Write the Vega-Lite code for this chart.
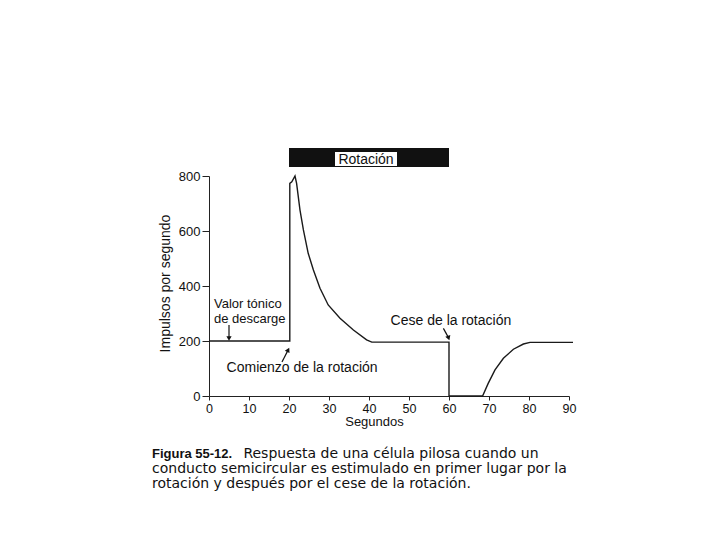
{
  "$schema": "https://vega.github.io/schema/vega-lite/v6.json",
  "width": 360,
  "height": 220,
  "autosize": {"type": "none"},
  "padding": {"left": 209, "top": 176, "right": 151, "bottom": 144},
  "background": "white",
  "config": {"view": {"stroke": null}, "font": "Liberation Sans", "axis": {"labelOverlap": false, "grid": false}},
  "encoding": {
    "x": {"field": "x", "type": "quantitative",
      "scale": {"domain": [0, 90], "nice": false, "zero": false},
      "axis": {"values": [0, 10, 20, 30, 40, 50, 60, 70, 80, 90], "title": "Segundos",
        "titleX": 165, "titleY": 29.5, "titleBaseline": "alphabetic",
        "titleFont": "Liberation Sans", "titleFontSize": 13, "titleFontWeight": "normal", "titleColor": "#111",
        "labelFont": "Liberation Sans", "labelFontSize": 12.5, "labelColor": "#111", "labelPadding": 2,
        "labelOverlap": false, "labelFlush": false,
        "tickSize": 4, "tickColor": "#222", "domainColor": "#222", "grid": false}},
    "y": {"field": "y", "type": "quantitative",
      "scale": {"domain": [0, 800], "nice": false},
      "axis": {"values": [0, 200, 400, 600, 800], "title": "Impulsos por segundo",
        "titleX": -37, "titleY": 107, "titleBaseline": "bottom",
        "titleFont": "Liberation Sans", "titleFontSize": 14, "titleFontWeight": "normal", "titleColor": "#111",
        "labelFont": "Liberation Sans", "labelFontSize": 13, "labelColor": "#111", "labelPadding": 2,
        "labelOverlap": false, "labelFlush": false,
        "tickSize": 7, "tickColor": "#222", "domainColor": "#222", "grid": false}}
  },
  "layer": [
    {
      "data": {"values": [
        {"i": 0, "x": 0, "y": 200},
        {"i": 1, "x": 20.2, "y": 200},
        {"i": 2, "x": 20.2, "y": 773},
        {"i": 3, "x": 20.7, "y": 779},
        {"i": 4, "x": 21.5, "y": 800},
        {"i": 5, "x": 21.9, "y": 773},
        {"i": 6, "x": 22.75, "y": 676},
        {"i": 7, "x": 23.6, "y": 604},
        {"i": 8, "x": 24.8, "y": 519},
        {"i": 9, "x": 26.1, "y": 458},
        {"i": 10, "x": 27.75, "y": 392},
        {"i": 11, "x": 29.8, "y": 331},
        {"i": 12, "x": 32.75, "y": 283},
        {"i": 13, "x": 36.1, "y": 240},
        {"i": 14, "x": 39.4, "y": 204},
        {"i": 15, "x": 40.7, "y": 196},
        {"i": 16, "x": 60, "y": 196},
        {"i": 17, "x": 60, "y": 0},
        {"i": 18, "x": 68.4, "y": 0},
        {"i": 19, "x": 69.8, "y": 46},
        {"i": 20, "x": 71.5, "y": 95},
        {"i": 21, "x": 73.6, "y": 137},
        {"i": 22, "x": 76.1, "y": 170},
        {"i": 23, "x": 78.6, "y": 189},
        {"i": 24, "x": 80.25, "y": 195},
        {"i": 25, "x": 91, "y": 195}
      ]},
      "mark": {"type": "line", "stroke": "#1a1a1a", "strokeWidth": 1.4, "clip": false},
      "encoding": {
        "order": {"field": "i", "type": "quantitative"}
      }
    },
    {
      "data": {"values": [{"x": 20, "x2": 60, "y": 833, "y2": 902}]},
      "mark": {"type": "rect", "fill": "#111", "clip": false},
      "encoding": {
        "x2": {"field": "x2"},
        "y2": {"field": "y2"}
      }
    },
    {
      "data": {"values": [{"x": 31.5, "x2": 47, "y": 836, "y2": 887}]},
      "mark": {"type": "rect", "fill": "white", "clip": false},
      "encoding": {
        "x2": {"field": "x2"},
        "y2": {"field": "y2"}
      }
    },
    {
      "data": {"values": [{"x": 39.25, "y": 842, "label": "Rotación"}]},
      "mark": {"type": "text", "align": "center", "baseline": "alphabetic", "font": "Liberation Sans", "fontSize": 14, "color": "#111", "clip": false},
      "encoding": {
        "text": {"field": "label"}
      }
    },
    {
      "data": {"values": [
        {"x": 1.25, "y": 319, "label": "Valor tónico"},
        {"x": 1.25, "y": 264, "label": "de descarge"}
      ]},
      "mark": {"type": "text", "align": "left", "baseline": "alphabetic", "font": "Liberation Sans", "fontSize": 13, "color": "#111", "clip": false},
      "encoding": {
        "text": {"field": "label"}
      }
    },
    {
      "data": {"values": [
        {"x": 4.4, "y": 88, "label": "Comienzo de la rotación"},
        {"x": 45.4, "y": 258, "label": "Cese de la rotación"}
      ]},
      "mark": {"type": "text", "align": "left", "baseline": "alphabetic", "font": "Liberation Sans", "fontSize": 14, "color": "#111", "clip": false},
      "encoding": {
        "text": {"field": "label"}
      }
    },
    {
      "data": {"values": [
        {"x": 5, "y": 258, "x2": 5, "y2": 212},
        {"x": 18.25, "y": 124, "x2": 19.7, "y2": 165},
        {"x": 58.6, "y": 246, "x2": 59.8, "y2": 214}
      ]},
      "mark": {"type": "rule", "stroke": "#111", "strokeWidth": 1.2, "clip": false},
      "encoding": {
        "x2": {"field": "x2"},
        "y2": {"field": "y2"}
      }
    },
    {
      "data": {"values": [{"x": 5, "y": 209}]},
      "mark": {"type": "point", "shape": "triangle-down", "filled": true, "size": 28, "color": "#111", "opacity": 1, "clip": false}
    },
    {
      "data": {"values": [{"x": 19.8, "y": 168}]},
      "mark": {"type": "point", "shape": "triangle-up", "filled": true, "size": 28, "angle": 27, "color": "#111", "opacity": 1, "clip": false}
    },
    {
      "data": {"values": [{"x": 59.9, "y": 211}]},
      "mark": {"type": "point", "shape": "triangle-down", "filled": true, "size": 28, "angle": -20, "color": "#111", "opacity": 1, "clip": false}
    },
    {
      "data": {"values": [{"x": -14.25, "y": -225.5, "label": "Figura 55-12."}]},
      "mark": {"type": "text", "align": "left", "baseline": "alphabetic", "font": "Liberation Sans", "fontSize": 13, "fontWeight": "bold", "color": "#111", "clip": false},
      "encoding": {
        "text": {"field": "label"}
      }
    },
    {
      "data": {"values": [
        {"x": 8.6, "y": -225.5, "label": "Respuesta de una célula pilosa cuando un"},
        {"x": -14.25, "y": -281, "label": "conducto semicircular es estimulado en primer lugar por la"},
        {"x": -14.25, "y": -334.5, "label": "rotación y después por el cese de la rotación."}
      ]},
      "mark": {"type": "text", "align": "left", "baseline": "alphabetic", "font": "DejaVu Sans", "fontSize": 14, "color": "#111", "clip": false},
      "encoding": {
        "text": {"field": "label"}
      }
    }
  ]
}
